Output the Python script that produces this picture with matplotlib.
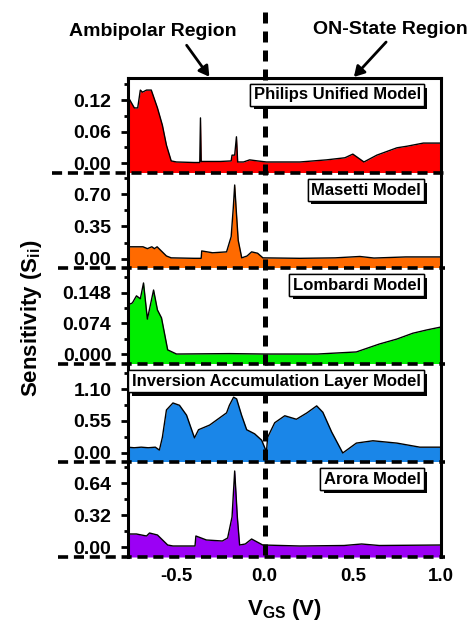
import matplotlib
matplotlib.use("Agg")
import matplotlib.pyplot as plt
from matplotlib.lines import Line2D
from matplotlib.patches import FancyArrowPatch
from matplotlib import patheffects

plt.rcParams["font.family"] = ["Liberation Sans", "DejaVu Sans"]
plt.rcParams["font.weight"] = "bold"
plt.rcParams["mathtext.fontset"] = "custom"
plt.rcParams["mathtext.rm"] = "Liberation Sans:bold"
plt.rcParams["mathtext.bf"] = "Liberation Sans:bold"
plt.rcParams["mathtext.it"] = "Liberation Sans:bold"

# sensitivity curves vs V_GS, one panel per mobility model
vgs_philips = [-0.778, -0.739, -0.72, -0.705, -0.693, -0.67, -0.643, -0.608, -0.58, -0.557,
               -0.53, -0.5, -0.4, -0.368, -0.364, -0.36, -0.347, -0.25, -0.19, -0.185,
               -0.17, -0.16, -0.153, -0.12, -0.085, -0.04, 0.01, 0.2, 0.35, 0.455, 0.5,
               0.563, 0.636, 0.75, 0.807, 0.9, 1.0]
s_philips = [0.128, 0.105, 0.105, 0.139, 0.135, 0.139, 0.139, 0.105, 0.072, 0.034,
             0.004, 0.002, 0.001, 0.001, 0.086, 0.003, 0.003, 0.003, 0.004, 0.015,
             0.015, 0.05, 0.002, 0.002, 0.006, 0.004, 0.002, 0.002, 0.006, 0.01, 0.017,
             0.002, 0.015, 0.029, 0.032, 0.038, 0.038]

vgs_masetti = [-0.778, -0.69, -0.665, -0.64, -0.625, -0.61, -0.557, -0.53, -0.4, -0.36,
               -0.357, -0.295, -0.216, -0.19, -0.178, -0.17, -0.162, -0.15, -0.13, -0.1,
               -0.074, -0.04, -0.01, 0.2, 0.4, 0.54, 0.62, 0.8, 1.0]
s_masetti = [0.13, 0.13, 0.11, 0.13, 0.11, 0.13, 0.03, 0.01, 0.005, 0.005,
             0.085, 0.065, 0.075, 0.24, 0.55, 0.80, 0.55, 0.2, 0.01, 0.03,
             0.075, 0.06, 0.01, 0.005, 0.01, 0.025, 0.008, 0.02, 0.02]

vgs_lombardi = [-0.778, -0.765, -0.75, -0.727, -0.705, -0.687, -0.665, -0.63, -0.608, -0.585,
                -0.55, -0.5, -0.2, 0.0, 0.3, 0.52, 0.65, 0.75, 0.84, 0.92, 1.0]
s_lombardi = [0.11, 0.12, 0.123, 0.14, 0.133, 0.171, 0.084, 0.154, 0.106, 0.087,
              0.01, 0.0, 0.001, 0.0, 0.0, 0.005, 0.024, 0.036, 0.05, 0.058, 0.065]

vgs_inversion = [-0.778, -0.74, -0.7, -0.66, -0.62, -0.597, -0.58, -0.557, -0.52, -0.483,
                 -0.443, -0.398, -0.375, -0.312, -0.216, -0.2, -0.176, -0.159, -0.131, -0.102,
                 -0.057, -0.017, 0.01, 0.017, 0.057, 0.114, 0.18, 0.24, 0.295, 0.33,
                 0.38, 0.443, 0.52, 0.614, 0.75, 0.88, 1.0]
s_inversion = [0.10, 0.09, 0.10, 0.09, 0.10, 0.05, 0.27, 0.74, 0.86, 0.82,
               0.65, 0.26, 0.40, 0.48, 0.69, 0.82, 0.96, 0.93, 0.65, 0.40,
               0.33, 0.22, 0.02, 0.27, 0.52, 0.64, 0.58, 0.69, 0.81, 0.70,
               0.36, 0.0, 0.17, 0.21, 0.17, 0.10, 0.10]

vgs_arora = [-0.778, -0.727, -0.67, -0.653, -0.608, -0.55, -0.52, -0.395, -0.39, -0.33,
             -0.24, -0.21, -0.185, -0.17, -0.155, -0.142, -0.11, -0.074, -0.011, 0.2,
             0.45, 0.55, 0.65, 1.0]
s_arora = [0.13, 0.13, 0.11, 0.14, 0.12, 0.02, 0.01, 0.01, 0.11, 0.07,
           0.06, 0.09, 0.3, 0.76, 0.3, 0.02, 0.03, 0.08, 0.02, 0.01,
           0.015, 0.03, 0.015, 0.02]

panels = [
    ("Philips Unified Model", vgs_philips, s_philips, "#ff0000", (-0.019, 0.162), [0.0, 0.06, 0.12], "%.2f"),
    ("Masetti Model", vgs_masetti, s_masetti, "#ff6a00", (-0.1, 0.93), [0.0, 0.35, 0.70], "%.2f"),
    ("Lombardi Model", vgs_lombardi, s_lombardi, "#00ee00", (-0.024, 0.207), [0.0, 0.074, 0.148], "%.3f"),
    ("Inversion Accumulation Layer Model", vgs_inversion, s_inversion, "#1a86e8", (-0.155, 1.53), [0.0, 0.55, 1.10], "%.2f"),
    ("Arora Model", vgs_arora, s_arora, "#9b00f5", (-0.1, 0.85), [0.0, 0.32, 0.64], "%.2f"),
]

W, H = 473, 625
fig = plt.figure(figsize=(W / 100, H / 100), dpi=100)

x0, x1 = 128, 441
edges = [78, 173, 268, 364, 462, 557]

for i, (name, xs, ys, color, ylim, ticks, fmt) in enumerate(panels):
    top, bot = edges[i], edges[i + 1]
    ax = fig.add_axes([x0 / W, 1 - bot / H, (x1 - x0) / W, (bot - top) / H])
    ax.fill_between(xs, ys, ylim[0], color=color, lw=0)
    ax.plot(xs, ys, color="black", lw=1)
    ax.set_xlim(-0.775, 1.0)
    ax.set_ylim(*ylim)
    ax.set_yticks(ticks)
    ax.set_yticklabels([fmt % t for t in ticks])
    step = ticks[1] - ticks[0]
    minors = [ticks[0] - step / 2] + [t + step / 2 for t in ticks]
    ax.set_yticks([m for m in minors if ylim[0] <= m <= ylim[1]], minor=True)
    ax.tick_params(axis="y", which="major", direction="out", length=5, width=2,
                   labelsize=14, pad=7)
    ax.tick_params(axis="y", which="minor", direction="out", length=3, width=2)
    ax.tick_params(axis="x", which="both", length=0)
    for s in ("left", "right", "top"):
        ax.spines[s].set_linewidth(2.2)
    ax.spines["bottom"].set_visible(False)
    if i > 0:
        ax.spines["top"].set_visible(False)
    if i < len(panels) - 1:
        ax.set_xticklabels([])
    else:
        ax.set_xticks([-0.5, 0.0, 0.5, 1.0])
        ax.set_xticklabels(["-0.5", "0.0", "0.5", "1.0"])
        ax.tick_params(axis="x", labelsize=13.5, pad=8)
    for lab in ax.get_yticklabels() + ax.get_xticklabels():
        lab.set_fontweight("bold")

    # model name in a white box with a drop shadow, kept above the V_GS = 0 line
    if i == 3:
        tx, ha = 0.012, "left"
    else:
        tx, ha = 0.935, "right"
    t = fig.text(tx, 0.9, name, transform=ax.transAxes, ha=ha, va="top",
                 fontsize=12, fontweight="bold", zorder=12,
                 bbox=dict(boxstyle="square,pad=0.2", fc="white", ec="black", lw=1))
    t.get_bbox_patch().set_path_effects([
        patheffects.withSimplePatchShadow(offset=(2.5, -2.5), shadow_rgbFace="black", alpha=1),
        patheffects.Normal()])

# dashed separators under each panel
for i, yb in enumerate(edges[1:]):
    xl = 52 if i == 0 else 58
    fig.add_artist(Line2D([xl / W, 445 / W], [1 - yb / H, 1 - yb / H], color="black",
                          lw=2.6, dashes=(2.8, 1.6), zorder=10))

# V_GS = 0 marker
xz = 265
fig.add_artist(Line2D([xz / W, xz / W], [1 - 12 / H, 1 - 557 / H], color="black",
                      lw=3.6, dashes=(2.2, 1.6), zorder=11))

# region annotations
fig.text(153 / W, 1 - 32 / H, "Ambipolar Region", ha="center", va="center",
         fontsize=14, fontweight="bold")
fig.text(390 / W, 1 - 30 / H, "ON-State Region", ha="center", va="center",
         fontsize=14, fontweight="bold")
fig.add_artist(FancyArrowPatch(
    (185 / W, 1 - 43 / H), (211 / W, 1 - 79 / H), transform=fig.transFigure,
    arrowstyle="-|>,head_length=6,head_width=3.5", lw=2, color="black"))
fig.add_artist(FancyArrowPatch(
    (388 / W, 1 - 40 / H), (352 / W, 1 - 79 / H), transform=fig.transFigure,
    arrowstyle="-|>,head_length=6,head_width=3.5", lw=2, color="black"))

fig.text(31 / W, 1 - 318 / H, r"Sensitivity (S$_{\mathbf{ii}}$)", rotation=90,
         ha="center", va="center", fontsize=16, fontweight="bold")
fig.text(284 / W, 1 - 609 / H, r"V$_{\mathbf{GS}}$ (V)", ha="center", va="center",
         fontsize=16, fontweight="bold")

fig.savefig("out.png", dpi=100)
